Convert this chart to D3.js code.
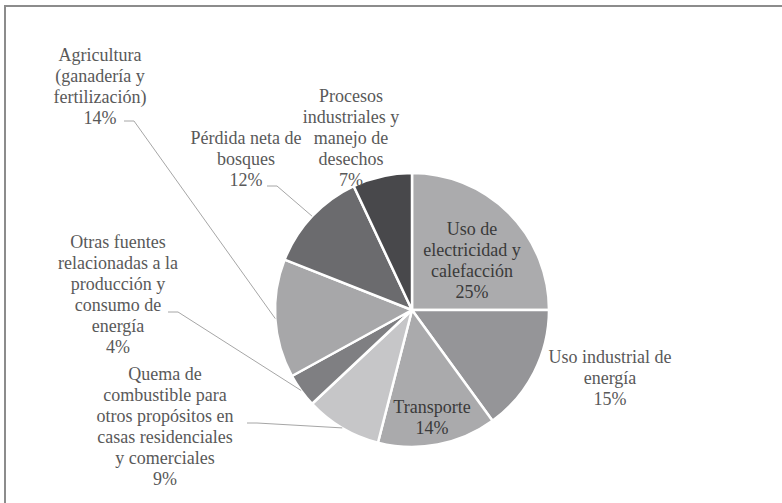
<!DOCTYPE html>
<html>
<head>
<meta charset="utf-8">
<script src="https://cdn.jsdelivr.net/npm/d3@7"></script>
<style>
  html, body { margin: 0; padding: 0; background: #fff; }
  svg { display: block; }
  text { font-family: "Times New Roman", Times, "Liberation Serif", Tinos, "Noto Serif", "DejaVu Serif", serif; font-size: 18px; }
</style>
</head>
<body>
<svg id="chart" width="782" height="503"></svg>
<script>
// ---- data ----
const categories = [
  "Uso de\nelectricidad y\ncalefacción",
  "Uso industrial de\nenergía",
  "Transporte",
  "Quema de\ncombustible para\notros propósitos en\ncasas residenciales\ny comerciales",
  "Otras fuentes\nrelacionadas a la\nproducción y\nconsumo de\nenergía",
  "Agricultura\n(ganadería y\nfertilización)",
  "Pérdida neta de\nbosques",
  "Procesos\nindustriales y\nmanejo de\ndesechos"
];
const values = [25, 15, 14, 9, 4, 14, 12, 7];
const colors = ["#ababad", "#959598", "#aaaaac", "#c6c6c8", "#7f7f82", "#a7a7a9", "#6b6b6e", "#48484b"];

// ---- layout (label placement, not data) ----
const labelLayout = [
  { x: 472, y: 235, inside: true },
  { x: 610, y: 363 },
  { x: 432, y: 413, inside: true },
  { x: 165, y: 380, leader: [247, 423] },
  { x: 118, y: 248, leader: [168, 312] },
  { x: 100, y: 61, leader: [124, 121] },
  { x: 246, y: 144, leader: [267, 186] },
  { x: 351, y: 102 }
];

const svg = d3.select("#chart");
svg.append("rect").attr("x", 5).attr("y", 6).attr("width", 820).attr("height", 540)
  .attr("fill", "none").attr("stroke", "#8c8c8c").attr("stroke-width", 2);

const cx = 412, cy = 310, R = 137;
const g = svg.append("g").attr("transform", `translate(${cx},${cy})`);

const pie = d3.pie().sort(null).value(d => d)(values);
const arc = d3.arc().innerRadius(0).outerRadius(R);

g.selectAll("path.slice").data(pie).enter().append("path")
  .attr("class", "slice")
  .attr("d", arc)
  .attr("fill", (d, i) => colors[i])
  .attr("stroke", "#fff").attr("stroke-width", 2.5).attr("stroke-linejoin", "round");

pie.forEach((d, i) => {
  const L = labelLayout[i];
  if (!L.leader) return;
  const mid = (d.startAngle + d.endAngle) / 2;
  const ex = cx + R * Math.sin(mid), ey = cy - R * Math.cos(mid);
  const [sx, sy] = L.leader;
  svg.append("polyline")
    .attr("points", `${sx},${sy} ${sx + 10},${sy} ${ex},${ey}`)
    .attr("fill", "none").attr("stroke", "#a6a6a6").attr("stroke-width", 1);
});

const total = d3.sum(values);
pie.forEach((d, i) => {
  const L = labelLayout[i];
  const lines = categories[i].split("\n").concat([Math.round(values[i] / total * 100) + "%"]);
  const t = svg.append("text")
    .attr("x", L.x).attr("y", L.y)
    .attr("text-anchor", "middle")
    .attr("fill", L.inside ? "#3a3a3a" : "#595959");
  lines.forEach((ln, k) => {
    t.append("tspan").attr("x", L.x).attr("dy", k === 0 ? 0 : 21).text(ln);
  });
});
</script>
</body>
</html>
